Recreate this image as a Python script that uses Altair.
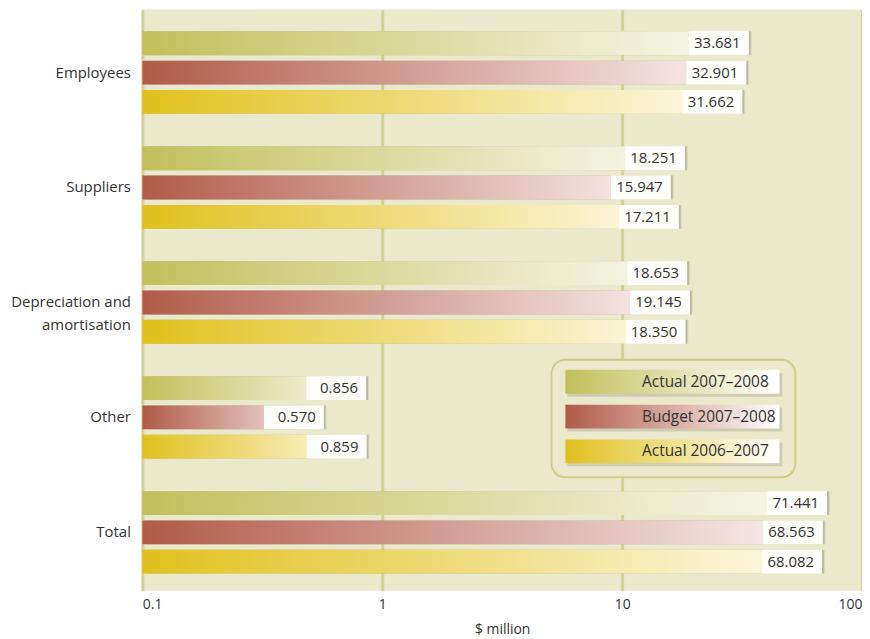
import altair as alt
import pandas as pd

categories = ["Employees", "Suppliers", "Depreciation and amortisation", "Other", "Total"]
series = ["Actual 2007–2008", "Budget 2007–2008", "Actual 2006–2007"]
actual_0708 = [33.681, 18.251, 18.653, 0.856, 71.441]
budget_0708 = [32.901, 15.947, 19.145, 0.570, 68.563]
actual_0607 = [31.662, 17.211, 18.350, 0.859, 68.082]
x_ticks = [0.1, 1, 10, 100]

start_colors = ["#c2c05b", "#b15b48", "#e1c11d"]
end_colors = ["#fbfaf2", "#fbf3f2", "#fefbec"]

FONT = "Open Sans"
TXT = "#333333"
BG = "#ebe9cc"

rows = []
for s, vals in zip(series, [actual_0708, budget_0708, actual_0607]):
    for c, v in zip(categories, vals):
        rows.append({"category": c, "series": s, "value": v, "base": 0.1, "label": f"{v:.3f}"})
df = pd.DataFrame(rows)

W, H = 723, 584


def grad(c0, c1):
    return alt.Gradient(
        gradient="linear",
        stops=[alt.GradientStop(color=c0, offset=0), alt.GradientStop(color=c1, offset=1)],
        x1=0, x2=1, y1=0, y2=0,
    )


xs = alt.Scale(type="log", domain=[0.1, 100], nice=False)
x_axis = alt.Axis(
    values=x_ticks, format="~g", title="$ million", labelFlush=True,
    grid=True, gridColor="#d3d190", gridWidth=3, tickSize=0, domain=False,
    labelPadding=7, titlePadding=11, labelFontSize=14, titleFontSize=14,
    titleFontWeight="normal", labelColor=TXT, titleColor=TXT, labelFont=FONT, titleFont=FONT,
)
y_enc = alt.Y(
    "category:N", sort=categories,
    scale=alt.Scale(paddingInner=0.283, paddingOuter=0.17, align=0.56),
    axis=alt.Axis(
        title=None, domain=False, ticks=False, labelPadding=12, labelFontSize=15,
        labelColor=TXT, labelFont=FONT, labelLineHeight=23,
        labelExpr="datum.value == 'Depreciation and amortisation' ? ['Depreciation and', 'amortisation'] : datum.value",
    ),
)
yoff = alt.YOffset("series:N", sort=series, scale=alt.Scale(paddingInner=0.186, paddingOuter=0))

base = alt.Chart(df)
X = alt.X("value:Q", scale=xs, axis=x_axis)

shadow1 = base.mark_bar(color="#000000", opacity=0.14, xOffset=2, x2Offset=3, yOffset=3).encode(
    x=X, x2="base:Q", y=y_enc, yOffset=yoff
)
shadow2 = base.mark_bar(color="#000000", opacity=0.07, xOffset=3, x2Offset=5, yOffset=5).encode(
    x=X, x2="base:Q", y=y_enc, yOffset=yoff
)

bar_layers = []
for s, c0, c1 in zip(series, start_colors, end_colors):
    bar_layers.append(
        base.transform_filter(alt.datum.series == s)
        .mark_bar(color=grad(c0, c1))
        .encode(x=X, x2="base:Q", y=y_enc, yOffset=yoff)
    )

box = base.mark_bar(color="#fdfdf9", xOffset=-60, x2Offset=0).encode(
    x=X, x2="value:Q", y=y_enc, yOffset=yoff
)
labels = base.mark_text(align="right", dx=-8, fontSize=15, color=TXT, font=FONT).encode(
    x=X, y=y_enc, yOffset=yoff, text="label:N"
)

# legend (decoration)
one = pd.DataFrame({"k": [0]})
legend_layers = [
    alt.Chart(one).mark_rect(
        fill=BG, stroke="#cfcd84", strokeWidth=2, cornerRadius=14
    ).encode(x=alt.value(411), x2=alt.value(656), y=alt.value(352), y2=alt.value(470))
]
for i, (s, c0, c1) in enumerate(zip(series, start_colors, end_colors)):
    top = 362 + 35 * i
    d = pd.DataFrame({"series": [s]})
    legend_layers.append(
        alt.Chart(d).mark_rect(color="#000000", opacity=0.12).encode(
            x=alt.value(427), x2=alt.value(643), y=alt.value(top + 3), y2=alt.value(top + 27)
        )
    )
    legend_layers.append(
        alt.Chart(d).mark_rect(color=grad(c0, "#ffffff")).encode(
            x=alt.value(425), x2=alt.value(640), y=alt.value(top), y2=alt.value(top + 24)
        )
    )
    legend_layers.append(
        alt.Chart(d).mark_text(align="left", baseline="middle", fontSize=15.5, color=TXT, font=FONT).encode(
            x=alt.value(502), y=alt.value(top + 12), text="series:N"
        )
    )

chart = (
    alt.layer(shadow2, shadow1, *bar_layers, box, labels, *legend_layers)
    .properties(width=W, height=H, padding={"left": 135, "top": 0, "right": 0, "bottom": 52}, autosize="none")
    .configure(background="#ffffff")
    .configure_view(fill=BG, strokeWidth=0)
)

chart.save("out.html", embed_options={"renderer": "svg", "actions": False})
